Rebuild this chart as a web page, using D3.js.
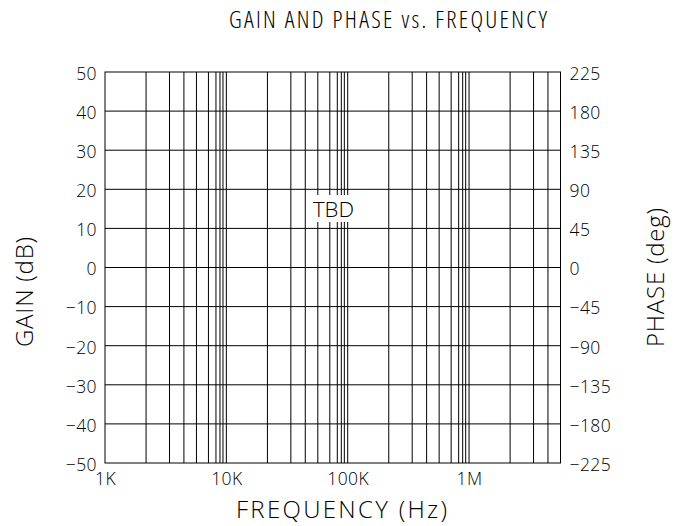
<!DOCTYPE html>
<html>
<head>
<meta charset="utf-8">
<script src="https://cdn.jsdelivr.net/npm/d3@7"></script>
<style>
  html, body { margin: 0; padding: 0; background: #fff; }
  svg { display: block; }
  text { font-family: "Open Sans", "Liberation Sans", sans-serif; font-weight: 300; fill: #000; }
  .cond { font-stretch: 75%; }
  .wide { font-stretch: 100%; }
</style>
</head>
<body>
<svg id="chart" width="681" height="526"></svg>
<script>
// Frequency axis: labelled decades and the grid steps drawn inside each decade
const decadeFreqs = [1e3, 1e4, 1e5, 1e6];
const decadeLabels = ["1K", "10K", "100K", "1M"];
const gridSteps = [2.18, 3.40, 4.47, 5.67, 7.12, 8.21, 8.86, 9.38];
const freqDomain = [1e3, 5.67e6];

// Gain axis (left) and phase axis (right)
const gainTicks = [-50, -40, -30, -20, -10, 0, 10, 20, 30, 40, 50];
const phaseTicks = [-225, -180, -135, -90, -45, 0, 45, 90, 135, 180, 225];

const title = "GAIN AND PHASE vs. FREQUENCY";
const xTitle = "FREQUENCY (Hz)";
const yLeftTitle = "GAIN (dB)";
const yRightTitle = "PHASE (deg)";
const placeholder = "TBD";

const svg = d3.select("#chart");
const plot = { left: 105, right: 560.5, top: 72, bottom: 463 };

const x = d3.scaleLog().domain(freqDomain).range([plot.left, plot.right]);
const yGain = d3.scaleLinear().domain([-50, 50]).range([plot.bottom, plot.top]);
const yPhase = d3.scaleLinear().domain([-225, 225]).range([plot.bottom, plot.top]);

const fmtMinus = v => (v < 0 ? "\u2212" + Math.abs(v) : String(v));

// vertical grid: decade lines plus the in-decade steps
const gridFreqs = [];
decadeFreqs.forEach(d => {
  if (d > freqDomain[0]) gridFreqs.push(d);
  gridSteps.forEach(m => { const f = d * m; if (f < freqDomain[1] * 0.999) gridFreqs.push(f); });
});

const grid = svg.append("g").attr("stroke", "#000").attr("stroke-width", 1).attr("fill", "none");
grid.selectAll("line.v").data(gridFreqs).join("line")
  .attr("class", "v")
  .attr("x1", d => x(d)).attr("x2", d => x(d))
  .attr("y1", plot.top).attr("y2", plot.bottom);
grid.selectAll("line.h").data(gainTicks.slice(1, -1)).join("line")
  .attr("class", "h")
  .attr("x1", plot.left).attr("x2", plot.right)
  .attr("y1", d => yGain(d)).attr("y2", d => yGain(d));

// "TBD" placeholder with white backing
const tbdG = svg.append("g");
const tbdRect = tbdG.append("rect").attr("fill", "#fff");
tbdG.append("text")
  .attr("x", 313).attr("y", 217)
  .attr("font-size", 21).style("font-weight", 350)
  .attr("textLength", 41).attr("lengthAdjust", "spacingAndGlyphs")
  .text(placeholder);
tbdRect.attr("x", 306.5).attr("y", 195).attr("width", 50.5).attr("height", 27);

// frame
svg.append("rect")
  .attr("x", plot.left).attr("y", plot.top)
  .attr("width", plot.right - plot.left).attr("height", plot.bottom - plot.top)
  .attr("fill", "none").attr("stroke", "#000").attr("stroke-width", 1);

function styleTicks(g) {
  g.select(".domain").remove();
  g.selectAll("text")
    .attr("font-size", 17.5)
    .attr("font-family", null)
    .attr("letter-spacing", 0.4)
    .attr("fill", "#000");
}

// left axis labels
const leftAxis = d3.axisLeft(yGain).tickValues(gainTicks).tickFormat(fmtMinus).tickSize(0).tickPadding(8);
const gl = svg.append("g").attr("transform", `translate(${plot.left},0)`).call(leftAxis);
styleTicks(gl);
gl.selectAll("text").attr("dy", "0.42em");

// right axis labels
const rightAxis = d3.axisRight(yPhase).tickValues(phaseTicks).tickFormat(fmtMinus).tickSize(0).tickPadding(9);
const gr = svg.append("g").attr("transform", `translate(${plot.right},0)`).call(rightAxis);
styleTicks(gr);
gr.selectAll("text").attr("dy", "0.42em");

// bottom axis labels
const bottomAxis = d3.axisBottom(x).tickValues(decadeFreqs)
  .tickFormat((d, i) => decadeLabels[i]).tickSize(0).tickPadding(10);
const gb = svg.append("g").attr("transform", `translate(0,${plot.bottom})`).call(bottomAxis);
styleTicks(gb);
gb.selectAll("text").attr("dy", "0.71em");

// titles, each fitted to its span
function fitted(sel, len) {
  const natural = sel.node().getComputedTextLength();
  sel.attr("textLength", len).attr("lengthAdjust", natural > len ? "spacingAndGlyphs" : "spacing");
  return sel;
}
fitted(svg.append("text").attr("class", "cond").attr("x", 229).attr("y", 28)
  .attr("font-size", 24).text(title), 318);
fitted(svg.append("text").attr("class", "wide").attr("x", 236).attr("y", 518)
  .attr("font-size", 24).text(xTitle), 211);
fitted(svg.append("text").attr("class", "wide").attr("transform", "translate(33,347) rotate(-90)")
  .attr("font-size", 24).text(yLeftTitle), 110);
fitted(svg.append("text").attr("class", "wide").attr("transform", "translate(664,347) rotate(-90)")
  .attr("font-size", 24).text(yRightTitle), 139);
</script>
</body>
</html>
